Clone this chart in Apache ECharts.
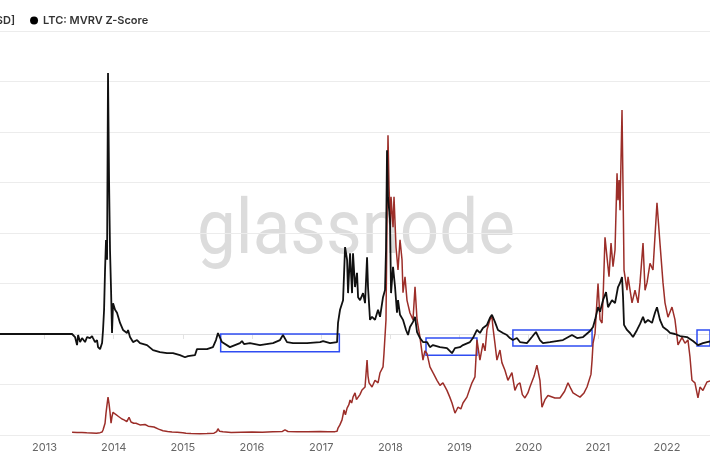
<!DOCTYPE html>
<html><head><meta charset="utf-8">
<script src="https://cdn.jsdelivr.net/npm/echarts@6/dist/echarts.min.js"></script>
<style>html,body{margin:0;padding:0;background:#fff}#c{width:710px;height:458px}</style>
</head><body><div id="c"></div>
<script>
// ---- data (decimal years) ----
const priceYears = [2013.398,2013.470,2013.540,2013.610,2013.680,2013.750,2013.803,2013.832,2013.846,2013.861,2013.875,2013.889,2013.904,2013.918,2013.933,2013.947,2013.962,2013.976,2013.991,2014.020,2014.048,2014.070,2014.092,2014.120,2014.150,2014.190,2014.222,2014.251,2014.290,2014.323,2014.380,2014.453,2014.500,2014.583,2014.650,2014.713,2014.780,2014.844,2014.920,2015.000,2015.046,2015.120,2015.248,2015.350,2015.451,2015.490,2015.509,2015.530,2015.581,2015.700,2015.841,2016.000,2016.150,2016.300,2016.440,2016.477,2016.520,2016.650,2016.800,2016.983,2017.100,2017.200,2017.229,2017.243,2017.270,2017.301,2017.330,2017.350,2017.374,2017.400,2017.417,2017.440,2017.460,2017.489,2017.510,2017.533,2017.560,2017.590,2017.634,2017.663,2017.677,2017.692,2017.735,2017.778,2017.822,2017.851,2017.894,2017.908,2017.937,2017.952,2017.966,2017.981,2018.000,2018.010,2018.039,2018.053,2018.082,2018.111,2018.140,2018.169,2018.183,2018.212,2018.241,2018.284,2018.328,2018.357,2018.386,2018.429,2018.472,2018.500,2018.530,2018.573,2018.617,2018.675,2018.718,2018.761,2018.819,2018.860,2018.892,2018.935,2018.960,2018.978,2019.020,2019.051,2019.108,2019.150,2019.181,2019.224,2019.253,2019.296,2019.340,2019.370,2019.398,2019.441,2019.470,2019.484,2019.513,2019.542,2019.586,2019.614,2019.658,2019.701,2019.759,2019.802,2019.840,2019.875,2019.910,2019.947,2019.990,2020.019,2020.080,2020.120,2020.164,2020.193,2020.236,2020.280,2020.308,2020.380,2020.453,2020.520,2020.569,2020.610,2020.641,2020.700,2020.742,2020.800,2020.843,2020.900,2020.916,2020.930,2020.959,2021.002,2021.031,2021.060,2021.080,2021.103,2021.132,2021.161,2021.190,2021.219,2021.248,2021.277,2021.291,2021.306,2021.320,2021.349,2021.364,2021.378,2021.421,2021.436,2021.494,2021.537,2021.581,2021.610,2021.653,2021.682,2021.711,2021.754,2021.797,2021.855,2021.898,2021.942,2021.971,2022.014,2022.072,2022.115,2022.159,2022.217,2022.260,2022.303,2022.332,2022.361,2022.404,2022.448,2022.477,2022.520,2022.578,2022.650];
const priceValues = [3.2,3.0,2.9,2.6,2.4,2.2,2.8,3.5,6,8,14,26,36,45,37,27,14,22,27,25,24,22,21,19,18,16,21,15.5,14,14,12,12.5,10.5,9.5,7,5,4.2,3.6,3.2,2.6,2.0,1.8,1.6,1.7,2.2,4,7.5,4.5,3.8,3.1,3.3,3.5,3.2,3.8,4.2,6.0,4.2,3.8,3.9,4.2,3.9,4.0,4.5,8.3,12,18,29.7,24,32,36,41.6,38,45,50,42,44,48,53.5,57,89,70,62,57,65,62,74,81,97,137,255,356,295,250,283,247,283,223,196,232,208,169,188,160,145,137,176,137,116,89,100,97,81,74,65,59,62,53,45,38,26,30,33,31,38,45,55,62,69,113,89,109,100,125,137,141,128,109,89,101,86,77,65,74,53,60,62,48,44,50,57,70,83,65,33,42,47,45,44,44,52,62,55,50,47,45,50,57,72,89,109,121,180,137,133,175,235,211,188,228,200,220,311,279,303,267,386,291,196,172,188,157,172,157,181,228,172,181,204,196,276,228,181,157,140,152,137,107,116,109,113,93,65,62,44,57,53,63,65];

const zYears = [2012.200,2013.398,2013.412,2013.441,2013.470,2013.485,2013.514,2013.542,2013.557,2013.586,2013.615,2013.658,2013.687,2013.701,2013.730,2013.759,2013.774,2013.803,2013.832,2013.846,2013.861,2013.875,2013.889,2013.904,2013.918,2013.933,2013.947,2013.962,2013.976,2013.991,2014.020,2014.048,2014.092,2014.135,2014.193,2014.208,2014.236,2014.280,2014.338,2014.381,2014.482,2014.569,2014.670,2014.771,2014.858,2014.959,2015.032,2015.075,2015.176,2015.205,2015.350,2015.436,2015.480,2015.509,2015.566,2015.682,2015.827,2015.856,2015.885,2015.971,2016.116,2016.304,2016.405,2016.448,2016.506,2016.593,2016.795,2016.983,2017.027,2017.128,2017.229,2017.243,2017.272,2017.287,2017.316,2017.345,2017.374,2017.388,2017.417,2017.446,2017.460,2017.489,2017.518,2017.533,2017.562,2017.605,2017.634,2017.663,2017.677,2017.706,2017.735,2017.778,2017.822,2017.851,2017.894,2017.923,2017.937,2017.952,2017.966,2017.995,2018.010,2018.039,2018.068,2018.096,2018.111,2018.140,2018.183,2018.227,2018.256,2018.284,2018.328,2018.357,2018.386,2018.429,2018.472,2018.530,2018.573,2018.617,2018.718,2018.819,2018.892,2018.935,2019.007,2019.051,2019.152,2019.195,2019.253,2019.296,2019.340,2019.398,2019.441,2019.470,2019.513,2019.557,2019.629,2019.687,2019.730,2019.773,2019.831,2019.875,2019.976,2020.048,2020.106,2020.164,2020.207,2020.308,2020.496,2020.626,2020.699,2020.786,2020.887,2020.930,2020.959,2021.002,2021.031,2021.074,2021.118,2021.147,2021.204,2021.248,2021.291,2021.320,2021.349,2021.364,2021.378,2021.421,2021.465,2021.508,2021.566,2021.610,2021.653,2021.682,2021.725,2021.783,2021.826,2021.855,2021.898,2021.942,2022.000,2022.043,2022.115,2022.188,2022.289,2022.376,2022.448,2022.520,2022.578,2022.650];
const zValues = [0,0,0,-0.06,-0.22,-0.02,-0.16,-0.08,-0.06,-0.16,-0.06,-0.08,-0.04,-0.08,-0.16,-0.12,-0.26,-0.30,-0.18,0.08,0.48,1.27,1.86,1.47,5.17,3.05,1.66,0.87,0.02,0.61,0.48,0.42,0.22,0.08,0.02,0.08,-0.06,-0.16,-0.12,-0.18,-0.22,-0.32,-0.36,-0.38,-0.38,-0.42,-0.46,-0.44,-0.42,-0.30,-0.30,-0.26,-0.12,0.02,-0.16,-0.26,-0.18,-0.14,-0.20,-0.18,-0.22,-0.18,-0.12,-0.02,-0.16,-0.18,-0.18,-0.16,-0.14,-0.18,-0.16,0.22,0.48,0.48,0.67,1.72,1.47,0.81,1.60,0.81,1.60,0.93,1.21,0.73,0.67,0.81,0.61,1.52,0.93,0.28,0.34,0.28,0.48,0.34,0.73,0.87,1.66,3.64,2.71,2.26,0.81,1.33,0.93,0.42,0.67,0.38,0.28,0.08,-0.02,0.14,0.24,0.34,0.04,-0.08,-0.16,-0.16,-0.26,-0.22,-0.26,-0.28,-0.38,-0.28,-0.26,-0.22,-0.16,-0.08,0.08,0.02,0.12,0.18,0.32,0.38,0.24,0.08,0.02,-0.02,-0.08,-0.12,-0.08,-0.16,-0.18,-0.06,0.04,-0.12,-0.18,-0.16,-0.12,-0.02,-0.08,-0.06,0.06,0.14,0.28,0.53,0.44,0.67,0.83,0.53,0.67,0.61,0.93,1.01,1.13,0.73,0.18,0.08,0.02,-0.06,0.08,0.20,0.34,0.22,0.28,0.22,0.42,0.53,0.28,0.14,0.08,0.02,0.00,-0.04,-0.06,-0.14,-0.22,-0.18,-0.16,-0.14];

// annotation boxes (decimal years, z-score)
const boxStart = [2015.548, 2018.516, 2019.773, 2022.434];
const boxEnd = [2017.262, 2019.253, 2020.916, 2022.800];
const boxTop = [0.00, -0.08, 0.08, 0.08];
const boxBottom = [-0.35, -0.42, -0.24, -0.24];

const seriesNames = ['LTC: Price [USD]', 'LTC: MVRV Z-Score'];
const watermark = 'glassnode';

function yt(y) {
  const yr = Math.floor(y);
  const s = new Date(yr, 0, 1).getTime();
  const e = new Date(yr + 1, 0, 1).getTime();
  return s + (y - yr) * (e - s);
}
const priceData = priceYears.map((y, i) => [yt(y), priceValues[i]]);
const zData = zYears.map((y, i) => [yt(y), zValues[i]]);
const areas = boxStart.map((s, i) => [{ xAxis: yt(s), yAxis: boxTop[i] }, { xAxis: yt(boxEnd[i]), yAxis: boxBottom[i] }]);

const FONT = 'Inter, "Noto Sans", sans-serif';
const chart = echarts.init(document.getElementById('c'), null, { renderer: 'canvas' });
const YEAR = 365 * 86400000;
chart.setOption({
  animation: false,
  backgroundColor: '#fff',
  grid: { left: 0, right: 0, top: 31, bottom: 23, containLabel: false },
  legend: {
    data: seriesNames,
    left: -91, top: 10,
    icon: 'circle', itemWidth: 8, itemHeight: 8, itemGap: 15,
    textStyle: { fontFamily: FONT, fontSize: 11, fontWeight: 600, color: '#333' }
  },
  graphic: [{
    type: 'text', z: 0, x: 356, y: 234, scaleX: 0.91,
    style: { text: watermark, font: '400 76px Roboto', fill: '#dcdcdc', textAlign: 'center', textVerticalAlign: 'middle' }
  }],
  xAxis: {
    type: 'time',
    min: yt(2012.357), max: yt(2022.622),
    minInterval: YEAR, maxInterval: YEAR * 1.01, splitNumber: 10,
    axisLine: { show: true, lineStyle: { color: '#e3e3e3', width: 1 } },
    axisTick: { show: true, length: 5, lineStyle: { color: '#e3e3e3' } },
    splitLine: { show: false },
    axisLabel: {
      color: '#666', fontFamily: FONT, fontSize: 11, margin: 7,
      showMinLabel: false, showMaxLabel: false,
      formatter: v => { const d = new Date(v); return (d.getMonth() === 0 && d.getDate() === 1) ? String(d.getFullYear()) : ''; }
    }
  },
  yAxis: [
    { type: 'value', min: -2, max: 6, interval: 1, position: 'right',
      axisLabel: { show: false }, axisLine: { show: false }, axisTick: { show: false },
      splitLine: { show: true, lineStyle: { color: '#ececec', width: 1 } } },
    { type: 'value', min: 0, max: 480, interval: 60, position: 'left',
      axisLabel: { show: false }, axisLine: { show: false }, axisTick: { show: false },
      splitLine: { show: false } }
  ],
  series: [
    { name: seriesNames[0], type: 'line', yAxisIndex: 1, data: priceData, showSymbol: false,
      symbol: 'circle', itemStyle: { color: '#9c2e29' },
      lineStyle: { color: '#9c2e29', width: 1.5 }, z: 2 },
    { name: seriesNames[1], type: 'line', yAxisIndex: 0, data: zData, showSymbol: false,
      symbol: 'circle', itemStyle: { color: '#000' },
      lineStyle: { color: '#111', width: 1.8 }, z: 3,
      markArea: { silent: true, itemStyle: { color: 'rgba(0,0,0,0)', borderColor: '#2f4df2', borderWidth: 1.5 }, data: areas } }
  ]
});
</script></body></html>
